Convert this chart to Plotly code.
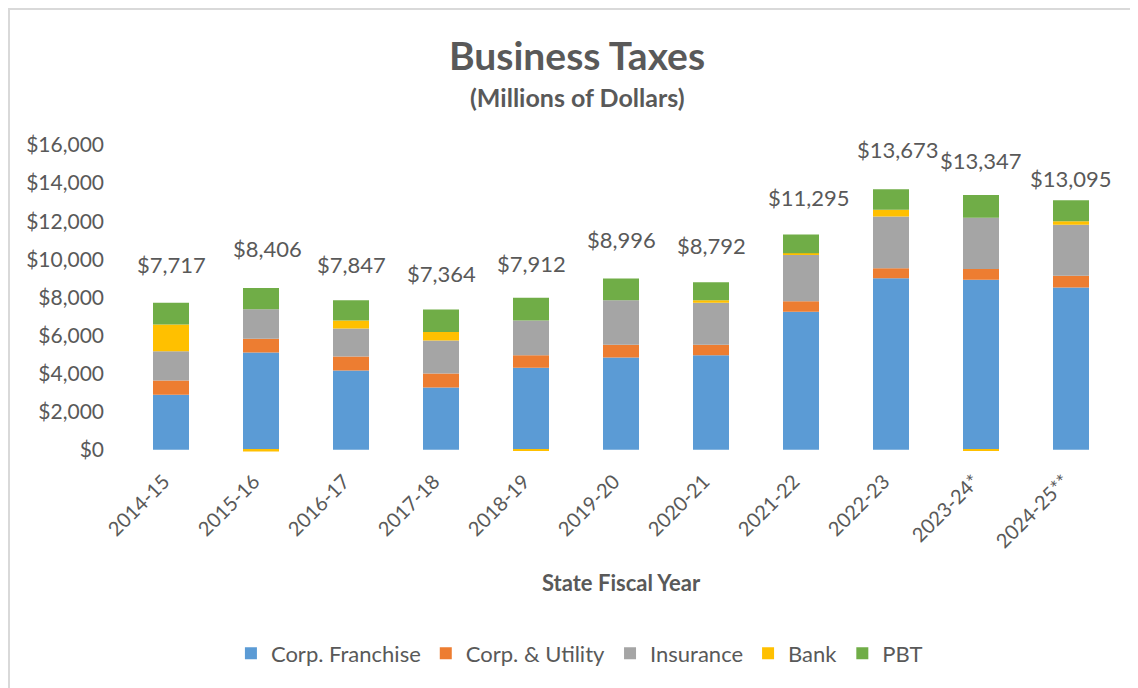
import plotly.graph_objects as go

years = ["2014-15", "2015-16", "2016-17", "2017-18", "2018-19", "2019-20",
         "2020-21", "2021-22", "2022-23", "2023-24*", "2024-25**"]
corp_franchise = [2885, 5104, 4160, 3270, 4302, 4842, 4963, 7250, 9000, 8918, 8520]
corp_utility = [750, 717, 734, 730, 661, 666, 546, 545, 530, 577, 615]
insurance = [1540, 1553, 1469, 1740, 1820, 2340, 2203, 2450, 2710, 2691, 2680]
bank = [1404, -90, 420, 447, -62, 0, 136, 75, 355, -30, 175]
pbt = [1138, 1122, 1064, 1177, 1191, 1148, 944, 975, 1078, 1191, 1105]
series_names = ["Corp. Franchise", "Corp. & Utility", "Insurance", "Bank", "PBT"]
y_ticks = [0, 2000, 4000, 6000, 8000, 10000, 12000, 14000, 16000]

# label placement offsets (pixels) - style only
label_yshift = [38, 41, 36, 36, 36, 39, 37, 37, 40, 35, 22]
label_xshift = [0, 6, 0, 0, 0, 0, 0, 8, 7, 0, 0]

colors = ["#5B9BD5", "#ED7D31", "#A5A5A5", "#FFC000", "#70AD47"]
FONT = "Lato, 'Open Sans', sans-serif"
TXT = "#595959"

fig = go.Figure()
for name, vals, col in zip(series_names,
                           [corp_franchise, corp_utility, insurance, bank, pbt],
                           colors):
    fig.add_trace(go.Bar(x=years, y=vals, name=name, marker_color=col,
                         marker_line_width=0))

totals = [sum(v) for v in zip(corp_franchise, corp_utility, insurance, bank, pbt)]
for yr, t, ys, xs in zip(years, totals, label_yshift, label_xshift):
    fig.add_annotation(x=yr, y=t, text=f"${t:,}", showarrow=False,
                       yshift=ys, xshift=xs, yanchor="middle", xanchor="center",
                       font=dict(family=FONT, size=22, color=TXT))

# titles
fig.add_annotation(xref="paper", yref="paper", x=0.4556, y=1.293,
                   xanchor="center", yanchor="middle",
                   text="<b>Business Taxes</b>", showarrow=False,
                   font=dict(family=FONT, size=39, color=TXT))
fig.add_annotation(xref="paper", yref="paper", x=0.4556, y=1.156,
                   xanchor="center", yanchor="middle",
                   text="<b>(Millions of Dollars)</b>", showarrow=False,
                   font=dict(family=FONT, size=25, color=TXT))
fig.add_annotation(xref="paper", yref="paper", x=0.5, y=-0.425,
                   xanchor="center", yanchor="middle",
                   text="<b>State Fiscal Year</b>", showarrow=False,
                   font=dict(family=FONT, size=22, color=TXT))

# outer border (chart frame)
fig.add_shape(type="rect", xref="paper", yref="paper",
              x0=-0.1182, x1=1.0172, y0=-0.85, y1=1.4426,
              line=dict(color="#D9D9D9", width=2), layer="below")

fig.update_layout(
    barmode="relative",
    bargap=0.6,
    width=1130, height=680,
    margin=dict(l=118, r=22, t=137, b=235.7),
    plot_bgcolor="white", paper_bgcolor="white",
    font=dict(family=FONT, color=TXT, size=20),
    showlegend=True,
    legend=dict(orientation="h", x=0.458, xanchor="center", y=-0.656,
                yanchor="middle", font=dict(size=22, color=TXT),
                traceorder="normal"),
)
fig.update_yaxes(range=[-120, 16000], tickvals=y_ticks,
                 ticktext=[f"${v:,}" for v in y_ticks],
                 showgrid=False, zeroline=False, showline=False,
                 tickfont=dict(size=21, color=TXT), ticks="", ticklabelstandoff=21)
fig.update_xaxes(tickangle=-45, showgrid=False, showline=False, ticks="",
                 tickfont=dict(size=20, color=TXT),
                 ticklabelstandoff=13, ticklabelshift=-7)

fig.write_html("out.html")
